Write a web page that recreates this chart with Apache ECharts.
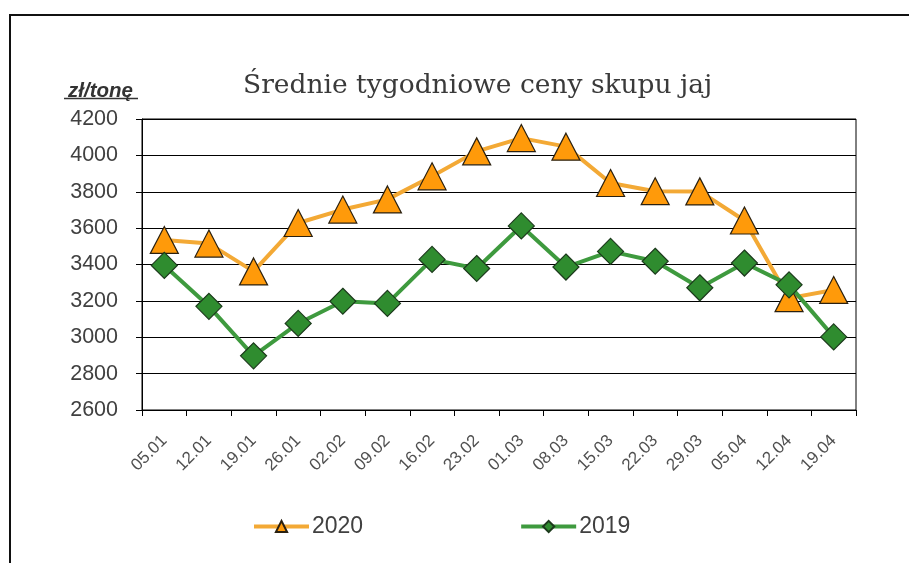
<!DOCTYPE html>
<html>
<head>
    <meta charset="utf-8">
    <title></title>
    <script src="https://cdn.jsdelivr.net/npm/echarts@6/dist/echarts.min.js"></script>
    <style>
        body { margin: 0; background: #fff; }
    </style>
</head>
<body>
<div id="main" style="width: 909px;height:563px;"></div>
<script type="text/javascript">
var weeks = ['05.01', '12.01', '19.01', '26.01', '02.02', '09.02', '16.02', '23.02',
    '01.03', '08.03', '15.03', '22.03', '29.03', '05.04', '12.04', '19.04'];
var prices2020 = [3535, 3515, 3362, 3628, 3702, 3758, 3885, 4022,
    4095, 4048, 3848, 3803, 3802, 3642, 3215, 3260];
var prices2019 = [3395, 3170, 2898, 3076, 3198, 3186, 3428, 3378,
    3612, 3386, 3472, 3418, 3272, 3408, 3288, 3002];
var yTicks = [2600, 4200, 200]; // min, max, step

var myChart = echarts.init(document.getElementById('main'));

myChart.setOption({
    backgroundColor: '#fff',
    animation: false,
    title: [{
        text: 'Średnie tygodniowe ceny skupu jaj',
        left: 238,
        top: 68,
        textStyle: {fontFamily: 'DejaVu Serif', fontSize: 26.5, fontWeight: 'normal', color: '#3a3a3a'}
    }, {
        text: 'zł/tonę',
        left: 63,
        top: 76,
        textStyle: {fontFamily: 'Liberation Sans', fontSize: 20.5, fontWeight: 'bold', fontStyle: 'italic', color: '#333'}
    }],
    graphic: [
        // outer frame (left + top only visible)
        {type: 'polyline', shape: {points: [[10, 563], [10, 15], [909, 15]]},
            style: {stroke: '#111', lineWidth: 2, fill: null}},
        // underline of unit label
        {type: 'line', shape: {x1: 64, y1: 98.5, x2: 138, y2: 98.5},
            style: {stroke: '#333', lineWidth: 1.5}}
    ],
    legend: {
        left: 252,
        top: 515,
        padding: 0,
        itemWidth: 55,
        itemHeight: 14,
        itemGap: 156,
        lineStyle: {width: 4},
        textStyle: {fontFamily: 'Liberation Sans', fontSize: 23, color: '#404040', padding: [0, 0, 0, -2]},
        data: ['2020', '2019']
    },
    grid: {
        left: 142, right: 53, top: 119, bottom: 153,
        show: true, borderColor: '#000', borderWidth: 1
    },
    xAxis: {
        type: 'category',
        data: weeks,
        boundaryGap: true,
        axisLine: {lineStyle: {color: '#000', width: 1}},
        axisTick: {show: true, length: 6, lineStyle: {color: '#000'}},
        axisLabel: {rotate: 45, margin: 28, fontFamily: 'Liberation Sans', fontSize: 17, color: '#505050'}
    },
    yAxis: {
        type: 'value',
        min: yTicks[0],
        max: yTicks[1],
        interval: yTicks[2],
        axisLine: {show: true, lineStyle: {color: '#000', width: 1}},
        axisTick: {show: true, length: 6, lineStyle: {color: '#000'}},
        axisLabel: {margin: 24, fontFamily: 'Liberation Sans', fontSize: 21.5, color: '#404040',
            formatter: function (v) { return String(v); }},
        splitLine: {lineStyle: {color: '#000', width: 1}}
    },
    series: [{
        name: '2020',
        type: 'line',
        data: prices2020,
        symbol: 'triangle',
        symbolSize: [28, 27],
        lineStyle: {color: '#F3A935', width: 4},
        itemStyle: {color: '#FF9A0A', borderColor: '#2a2010', borderWidth: 1.2}
    }, {
        name: '2019',
        type: 'line',
        data: prices2019,
        symbol: 'diamond',
        symbolSize: [26, 26],
        lineStyle: {color: '#3E9A3E', width: 4},
        itemStyle: {color: '#2F8C2F', borderColor: '#1c3a1c', borderWidth: 1.2}
    }]
});
</script>
</body>
</html>
